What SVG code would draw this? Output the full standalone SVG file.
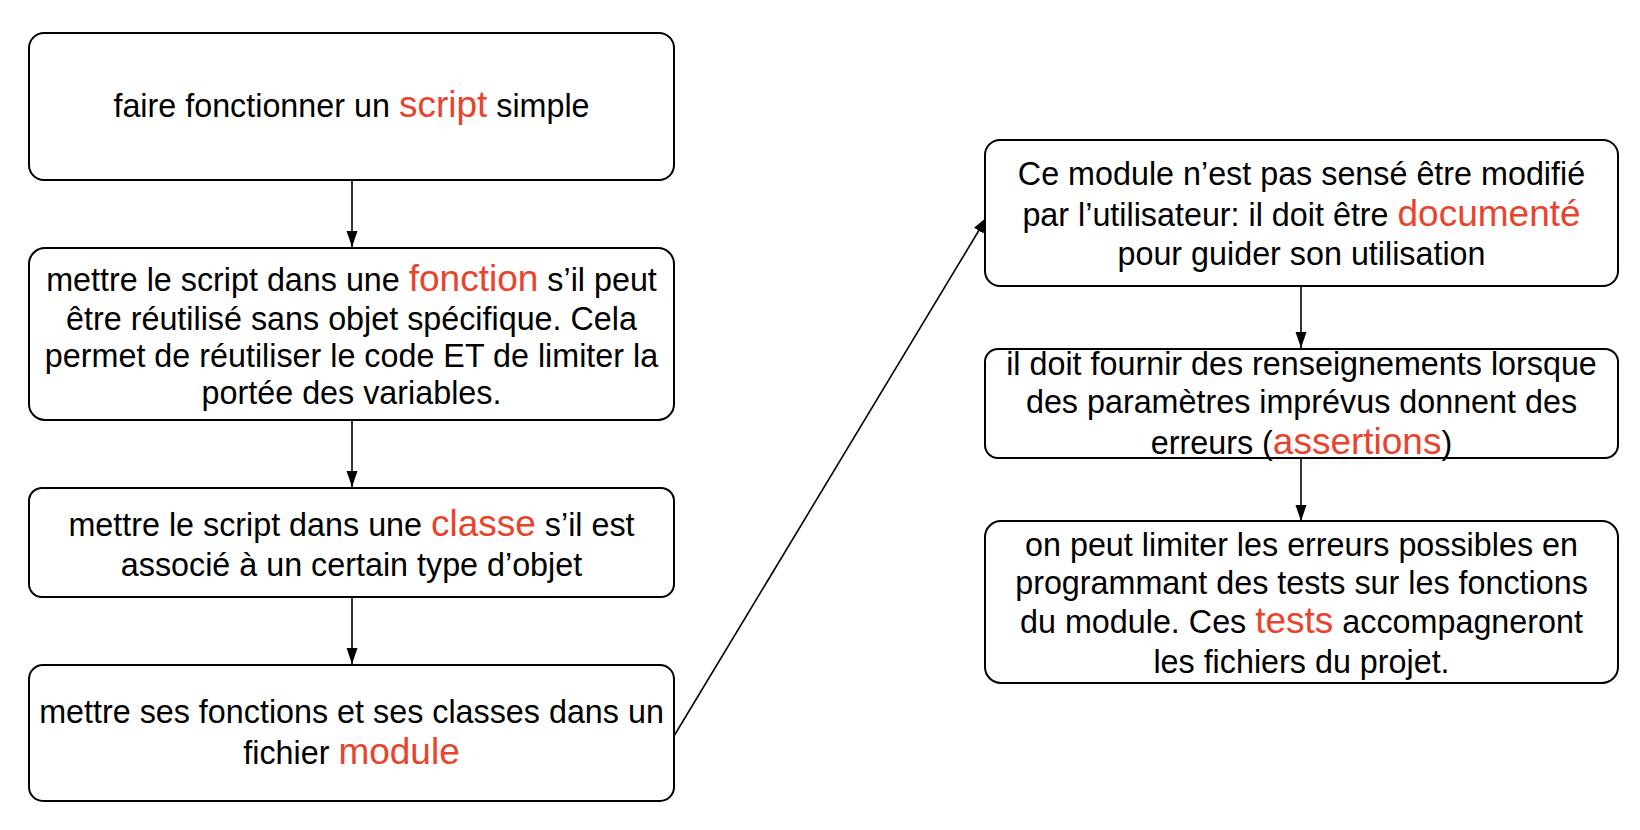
<svg xmlns="http://www.w3.org/2000/svg" width="1640" height="830" viewBox="0 0 1640 830">
<style>
.box{fill:#fff;stroke:#000;stroke-width:2}
.t{font-family:"Liberation Sans",Arial,Helvetica,sans-serif;font-size:32.3px;fill:#000;text-anchor:middle}
.r{fill:#E9432C;font-size:37px}
.c{fill:none;stroke:#000;stroke-width:1.6}
</style>
<defs>
<marker id="ah" markerUnits="userSpaceOnUse" markerWidth="18" markerHeight="12" refX="16" refY="5.5" orient="auto">
<path d="M0,0 L16,5.5 L0,11 z" fill="#000"/>
</marker>
</defs>
<rect width="1640" height="830" fill="#fff"/>
<g id="connectors">
<line class="c" x1="352" y1="180" x2="352" y2="247" marker-end="url(#ah)"/>
<line class="c" x1="352" y1="420" x2="352" y2="487" marker-end="url(#ah)"/>
<line class="c" x1="352" y1="597" x2="352" y2="664" marker-end="url(#ah)"/>
<line class="c" x1="674" y1="736" x2="987" y2="217" marker-end="url(#ah)"/>
<line class="c" x1="1301" y1="286" x2="1301" y2="348" marker-end="url(#ah)"/>
<line class="c" x1="1301" y1="458" x2="1301" y2="521" marker-end="url(#ah)"/>
</g>
<g id="n1">
<rect class="box" x="29" y="33" width="645" height="147" rx="15"/>
<text class="t" x="351.5" y="117">faire fonctionner un <tspan class="r">script</tspan> simple</text>
</g>
<g id="n2">
<rect class="box" x="29" y="248" width="645" height="172" rx="16"/>
<text class="t" x="351.5" y="291">mettre le script dans une <tspan class="r">fonction</tspan> s’il peut</text>
<text class="t" x="351.5" y="330">être réutilisé sans objet spécifique. Cela</text>
<text class="t" x="351.5" y="367">permet de réutiliser le code ET de limiter la</text>
<text class="t" x="351.5" y="404">portée des variables.</text>
</g>
<g id="n3">
<rect class="box" x="29" y="488" width="645" height="109" rx="13"/>
<text class="t" x="351.5" y="536">mettre le script dans une <tspan class="r">classe</tspan> s’il est</text>
<text class="t" x="351.5" y="576">associé à un certain type d’objet</text>
</g>
<g id="n4">
<rect class="box" x="29" y="665" width="645" height="136" rx="14"/>
<text class="t" x="351.5" y="723">mettre ses fonctions et ses classes dans un</text>
<text class="t" x="351.5" y="764">fichier <tspan class="r">module</tspan></text>
</g>
<g id="n5">
<rect class="box" x="985" y="140" width="633" height="146" rx="15"/>
<text class="t" x="1301.5" y="185">Ce module n’est pas sensé être modifié</text>
<text class="t" x="1301.5" y="226">par l’utilisateur: il doit être <tspan class="r">documenté</tspan></text>
<text class="t" x="1301.5" y="265">pour guider son utilisation</text>
</g>
<g id="n6">
<rect class="box" x="985" y="349" width="633" height="109" rx="13"/>
<text class="t" x="1301.5" y="375">il doit fournir des renseignements lorsque</text>
<text class="t" x="1301.5" y="413">des paramètres imprévus donnent des</text>
<text class="t" x="1301.5" y="454">erreurs (<tspan class="r">assertions</tspan>)</text>
</g>
<g id="n7">
<rect class="box" x="985" y="521" width="633" height="162" rx="16"/>
<text class="t" x="1301.5" y="556">on peut limiter les erreurs possibles en</text>
<text class="t" x="1301.5" y="594">programmant des tests sur les fonctions</text>
<text class="t" x="1301.5" y="633">du module. Ces <tspan class="r">tests</tspan> accompagneront</text>
<text class="t" x="1301.5" y="673">les fichiers du projet.</text>
</g>
</svg>
